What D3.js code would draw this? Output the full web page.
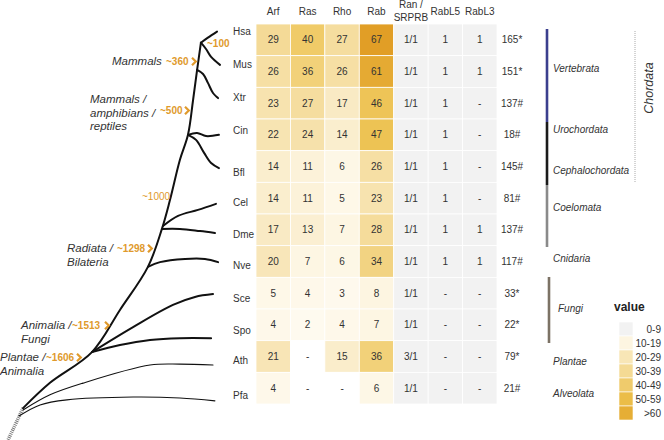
<!DOCTYPE html>
<html><head><meta charset="utf-8">
<script src="https://cdn.jsdelivr.net/npm/d3@7/dist/d3.min.js"></script>
<style>
html,body{margin:0;padding:0;background:#fff;}
svg{display:block;font-family:"Liberation Sans",Arial,Helvetica,sans-serif;}
</style></head>
<body>
<svg id="chart" width="664" height="440"></svg>
<script>
// ---------- data ----------
const species = ["Hsa","Mus","Xtr","Cin","Bfl","Cel","Dme","Nve","Sce","Spo","Ath","Pfa"];
const columns = ["Arf","Ras","Rho","Rab","Ran / SRPRB","RabL5","RabL3"];
const arf = [29,26,23,22,14,14,17,20,5,4,21,4];
const ras = [40,36,27,24,11,11,13,7,4,2,null,null];
const rho = [27,26,17,14,6,5,7,6,3,4,15,null];
const rab = [67,61,46,47,26,23,28,34,8,7,36,6];
const ranSrprb = ["1/1","1/1","1/1","1/1","1/1","1/1","1/1","1/1","1/1","1/1","3/1","1/1"];
const rabL5 = ["1","1","1","1","1","1","1","1","-","-","-","-"];
const rabL3 = ["1","1","-","-","-","-","1","1","-","-","-","-"];
const totals = ["165*","151*","137#","18#","145#","81#","137#","117#","33*","22*","79*","21#"];
const legendLabels = ["0-9","10-19","20-29","30-39","40-49","50-59",">60"];
const legendColors = ["#f2f2f2","#fdf5e1","#f8e6b6","#f4da94","#efcb6c","#ebbd48","#e6ae35"];

// tree branches: [depth (0-100), row position (row units)]
const trunk = [[7.1,12.13],[19.8,11.33],[39.6,10.36],[52.8,9.03],[66,7.67],[72.6,6.47],[76.4,5.56],[81.1,4.29],[84.9,3.5],[87.3,2.4],[89.2,1.45],[91,0.59]];
const branches = [
  {name:"Hsa", w:2, pts:[[91,0.59],[94.3,0.43],[98.6,0.24]]},
  {name:"Mus", w:2, pts:[[91,0.59],[93.4,0.79],[95.8,1.04],[100,1.29]]},
  {name:"Xtr", w:2, pts:[[89.2,1.45],[92,1.58],[94.3,1.86],[96.7,2.18],[99.1,2.34]]},
  {name:"Cin", w:2, pts:[[84.9,3.5],[89.2,3.44],[93.4,3.54],[99.5,3.5]]},
  {name:"Bfl", w:2, pts:[[84.9,3.5],[88.7,3.66],[92.5,4.07],[95.8,4.39],[99.5,4.55]]},
  {name:"Cel", w:2, pts:[[73.1,6.38],[80.2,6.06],[89.6,5.87],[98.1,5.68]]},
  {name:"Dme", w:2, pts:[[72.6,6.47],[81.1,6.47],[90.6,6.54],[97.6,6.6]]},
  {name:"Nve", w:2, pts:[[66,7.67],[71.7,7.52],[83.5,7.42],[92.9,7.42],[99.1,7.52]]},
  {name:"Sce", w:2, pts:[[39.6,10.36],[59,9.57],[77.8,8.87],[88.2,8.62],[96.7,8.53]]},
  {name:"Spo", w:2, pts:[[39.6,10.36],[52.8,10.14],[67,9.98],[81.1,9.92],[95.8,9.92]]},
  {name:"Ath", w:1.1, pts:[[7.1,12.19],[19.8,11.71],[35.4,11.34],[67,10.77],[81.1,10.74],[96.7,10.77]]},
  {name:"Pfa", w:1.1, pts:[[5.2,12.38],[15.1,12.03],[27.8,11.87],[59,11.78],[81.1,11.81],[97.6,11.9]]}
];
const rootStub = [[7.1,12.13],[0,13.14]];
// species label positions (row units)
const labelRows = [0.25,1.29,2.31,3.35,4.68,5.65,6.64,7.64,8.68,9.69,10.64,11.72];

// ---------- scales ----------
const svg = d3.select("#chart");
const x = d3.scaleBand().domain(columns).range([256,497]);
const y = d3.scaleBand().domain(species).range([24,404]);
const tx = d3.scaleLinear().domain([0,100]).range([8,220]);
const ty = d3.scaleLinear().domain([0,12]).range([24,404]);
const color = d3.scaleLinear().domain([0,10,25,40,50,67])
  .range(["#fffcf4","#fcf3dc","#f6e0a8","#f0cb68","#ecbf4c","#e19e26"]);
const orange = "#e09a2c";
const font = '"Liberation Sans",Arial,Helvetica,sans-serif';

// ---------- heatmap ----------
const numCols = {Arf:arf, Ras:ras, Rho:rho, Rab:rab};
const cells = [];
species.forEach((s,i)=>{
  ["Arf","Ras","Rho","Rab"].forEach(c=>{
    const v = numCols[c][i];
    cells.push({s, c, text: v==null?"-":String(v), fill: v==null?"#ffffff":color(v)});
  });
  cells.push({s, c:"Ran / SRPRB", text:ranSrprb[i], fill:"#f2f2f2"});
  cells.push({s, c:"RabL5", text:rabL5[i], fill:"#f2f2f2"});
  cells.push({s, c:"RabL3", text:rabL3[i], fill:"#f2f2f2"});
});
const g = svg.append("g");
g.selectAll("rect.cell").data(cells).join("rect").attr("class","cell")
  .attr("x",d=>x(d.c)).attr("y",d=>y(d.s))
  .attr("width",x.bandwidth()).attr("height",y.bandwidth())
  .attr("fill",d=>d.fill).attr("stroke","#ffffff").attr("stroke-width",0.8);
g.selectAll("text.cellt").data(cells).join("text").attr("class","cellt")
  .attr("x",d=>x(d.c)+x.bandwidth()/2).attr("y",d=>y(d.s)+y.bandwidth()/2+3.5)
  .attr("text-anchor","middle").attr("font-size",10).attr("fill","#333").text(d=>d.text);

// headers
columns.forEach(c=>{
  const parts = c==="Ran / SRPRB" ? ["Ran /","SRPRB"] : [c];
  const t = svg.append("text").attr("x",x(c)+x.bandwidth()/2).attr("text-anchor","middle")
    .attr("font-size",10).attr("fill","#333");
  if(parts.length===1){ t.attr("y",15).text(parts[0]); }
  else { t.attr("y",8).text(parts[0]); svg.append("text").attr("x",x(c)+x.bandwidth()/2).attr("y",21)
      .attr("text-anchor","middle").attr("font-size",10).attr("fill","#333").text(parts[1]); }
});

// totals
svg.selectAll("text.tot").data(totals).join("text").attr("class","tot")
  .attr("x",512).attr("y",(d,i)=>y(species[i])+y.bandwidth()/2+3.5)
  .attr("text-anchor","middle").attr("font-size",10).attr("fill","#333").text(d=>d);

// species labels
svg.selectAll("text.sp").data(species).join("text").attr("class","sp")
  .attr("x",233).attr("y",(d,i)=>ty(labelRows[i])+3.5)
  .attr("font-size",10).attr("fill","#333").text(d=>d);

// ---------- tree ----------
const line = d3.line().x(d=>tx(d[0])).y(d=>ty(d[1])).curve(d3.curveCatmullRom.alpha(0.5));
svg.append("path").attr("d",line(rootStub)).attr("fill","none")
  .attr("stroke","#777").attr("stroke-width",3.5).attr("stroke-dasharray","1,1");
branches.forEach(b=>{
  svg.append("path").attr("d",line(b.pts)).attr("fill","none")
    .attr("stroke","#111").attr("stroke-width",b.w).attr("stroke-linecap","round");
});
svg.append("path").attr("d",line(trunk)).attr("fill","none")
  .attr("stroke","#111").attr("stroke-width",2).attr("stroke-linecap","round");

// annotations
const annots = [
  {lines:["Mammals"], lx:112, ly:65, num:"~360", nx:166, ny:65, chev:192},
  {lines:["Mammals /","amphibians /","reptiles"], lx:90, ly:103, num:"~500", nx:160, ny:114, chev:185},
  {lines:["Radiata /","Bilateria"], lx:67, ly:252, num:"~1298", nx:117, ny:252, chev:148},
  {lines:["Animalia /","Fungi"], lx:21, ly:329, num:"~1513", nx:72, ny:329, chev:105},
  {lines:["Plantae /","Animalia"], lx:0, ly:361, num:"~1606", nx:46, ny:361, chev:77}
];
annots.forEach(a=>{
  a.lines.forEach((l,k)=>{
    svg.append("text").attr("x",a.lx).attr("y",a.ly+k*13.5).attr("font-size",11.5)
      .attr("font-style","italic").attr("fill","#333").text(l);
  });
  svg.append("text").attr("x",a.nx).attr("y",a.ny).attr("font-size",10).attr("font-weight","bold")
    .attr("fill",orange).text(a.num);
  const cy = a.ny-3.5;
  svg.append("path").attr("d",`M${a.chev},${cy-3.8}L${a.chev+3.8},${cy}L${a.chev},${cy+3.8}`)
    .attr("fill","none").attr("stroke",orange).attr("stroke-width",2.2);
});
svg.append("text").attr("x",207).attr("y",47).attr("font-size",10).attr("font-weight","bold").attr("fill",orange).text("~100");
svg.append("text").attr("x",142).attr("y",200).attr("font-size",10).attr("fill",orange).text("~1000");

// ---------- taxonomy ----------
const bars = [
  {y0:29,y1:122,c:"#3b3f8e",x:547},
  {y0:122,y1:185,c:"#1a1a1a",x:547},
  {y0:185,y1:247,c:"#8a8a8a",x:547},
  {y0:277,y1:343,c:"#7c7265",x:549}
];
bars.forEach(b=>svg.append("line").attr("x1",b.x).attr("x2",b.x).attr("y1",b.y0).attr("y2",b.y1)
  .attr("stroke",b.c).attr("stroke-width",2.6));
const taxa = [["Vertebrata",553,72],["Urochordata",553,133],["Cephalochordata",553,174],["Coelomata",553,211],
  ["Cnidaria",553,262],["Fungi",558,312],["Plantae",553,365],["Alveolata",553,397]];
taxa.forEach(t=>svg.append("text").attr("x",t[1]).attr("y",t[2]).attr("font-size",10)
  .attr("font-style","italic").attr("fill","#333").text(t[0]));
svg.append("line").attr("x1",635).attr("x2",635).attr("y1",31).attr("y2",183)
  .attr("stroke","#aaa").attr("stroke-width",1).attr("stroke-dasharray","1,1");
svg.append("text").attr("transform","translate(653,88) rotate(-90)").attr("text-anchor","middle")
  .attr("font-size",12.5).attr("font-style","italic").attr("fill","#333").text("Chordata");

// ---------- legend ----------
const ly = d3.scaleBand().domain(legendLabels).range([322,420]);
svg.append("text").attr("x",614).attr("y",311).attr("font-size",12).attr("font-weight","bold")
  .attr("fill","#222").text("value");
svg.selectAll("rect.leg").data(legendLabels).join("rect").attr("class","leg")
  .attr("x",619).attr("y",d=>ly(d)).attr("width",14).attr("height",ly.bandwidth())
  .attr("fill",(d,i)=>legendColors[i]).attr("stroke","#fff").attr("stroke-width",0.6);
svg.selectAll("text.legt").data(legendLabels).join("text").attr("class","legt")
  .attr("x",661).attr("y",d=>ly(d)+ly.bandwidth()/2+3.5).attr("text-anchor","end")
  .attr("font-size",10).attr("fill","#333").text(d=>d);
</script>
</body></html>
